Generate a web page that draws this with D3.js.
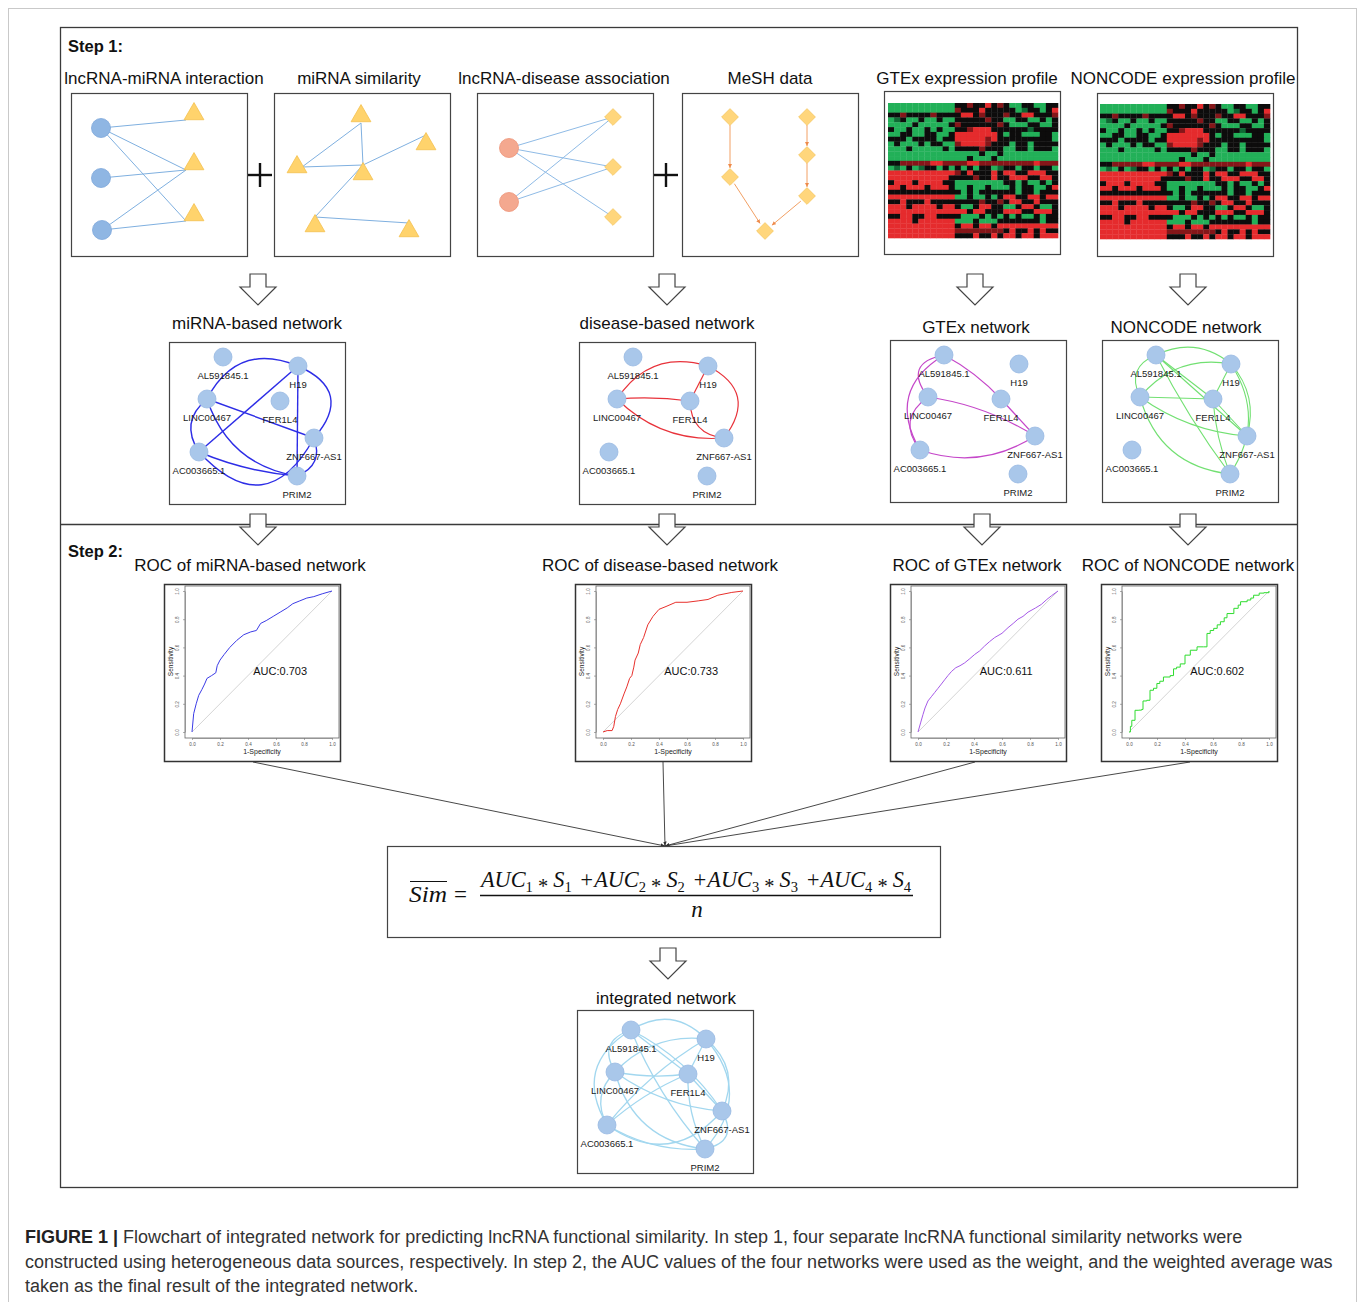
<!DOCTYPE html>
<html><head><meta charset="utf-8">
<script src="https://cdn.jsdelivr.net/npm/d3@7"></script>
<style>
body{margin:0;background:#fff}
svg{display:block}
text{font-family:"Liberation Sans",Arial,sans-serif}
text.math{font-family:"Liberation Serif","DejaVu Serif",serif}
</style>
</head><body>
<svg id="fig" width="1360" height="1302"></svg>
<script>
// ---------- data ----------
const step1Titles = ["lncRNA-miRNA interaction","miRNA similarity","lncRNA-disease association","MeSH data","GTEx expression profile","NONCODE expression profile"];
const networkTitles = ["miRNA-based network","disease-based network","GTEx network","NONCODE network"];
const rocTitles = ["ROC of miRNA-based network","ROC of disease-based network","ROC of GTEx network","ROC of NONCODE network"];
const aucValues = [0.703, 0.733, 0.611, 0.602];
const nodeNames = ["AL591845.1","H19","LINC00467","FER1L4","ZNF667-AS1","AC003665.1","PRIM2"];
const rocTicks = [0, 0.2, 0.4, 0.6, 0.8, 1.0];

// node layout inside a network panel (0 AL, 1 H19, 2 LINC, 3 FER, 4 ZNF, 5 AC, 6 PRIM)
const nodeLayout = [[54,15],[129,24],[38,57],[111,59],[145,96],[30,110],[128,134]];

// edges: [source, target, bend]
const mirnaEdges = [[2,1,-22],[1,5,0],[1,6,0],[1,4,-25],[2,4,0],[2,6,18],[2,5,12],[5,6,4],[5,4,40],[4,6,-10]];
const diseaseEdges = [[2,1,-18],[2,3,-2],[3,1,0],[2,4,13],[3,4,11],[1,4,-22]];
const gtexEdges = [[0,2,18],[0,5,24],[2,5,14],[0,3,-3],[3,4,0],[2,4,-6],[5,4,14]];
const noncodeEdges = [[0,1,-12],[0,2,12],[0,3,0],[0,4,0],[0,6,3],[2,1,-14],[2,3,0],[2,4,8],[2,6,20],[3,1,0],[3,4,0],[3,6,3],[1,4,-10],[1,6,-18]];
const integratedEdges = [[0,1,-15],[0,2,14],[0,3,0],[0,4,-8],[0,6,6],[0,5,24],[2,1,-12],[2,3,3],[2,4,8],[2,6,20],[2,5,10],[1,3,0],[1,4,-14],[1,6,-24],[1,5,6],[3,4,0],[3,6,5],[4,6,-14],[5,6,8],[5,4,26],[5,3,-4]];

// ROC curves: [1-specificity, sensitivity]
const rocMirna = [[0,0],[0.012,0.13],[0.03,0.2],[0.048,0.26],[0.07,0.3],[0.09,0.34],[0.107,0.38],[0.14,0.4],[0.17,0.42],[0.18,0.47],[0.2,0.51],[0.23,0.55],[0.27,0.6],[0.32,0.65],[0.37,0.69],[0.42,0.71],[0.46,0.72],[0.49,0.77],[0.53,0.79],[0.58,0.82],[0.63,0.85],[0.68,0.88],[0.72,0.91],[0.77,0.93],[0.82,0.95],[0.87,0.96],[0.93,0.98],[1,1]];
const rocDisease = [[0,0],[0.03,0.01],[0.065,0.01],[0.077,0.04],[0.089,0.11],[0.105,0.16],[0.124,0.2],[0.15,0.27],[0.17,0.32],[0.19,0.38],[0.206,0.4],[0.22,0.46],[0.229,0.51],[0.252,0.56],[0.266,0.62],[0.29,0.67],[0.32,0.76],[0.357,0.82],[0.4,0.87],[0.45,0.89],[0.52,0.92],[0.6,0.92],[0.68,0.93],[0.75,0.94],[0.82,0.97],[0.92,0.99],[1,1]];
const rocGtex = [[0,0],[0.02,0.07],[0.036,0.125],[0.05,0.17],[0.071,0.22],[0.095,0.25],[0.119,0.28],[0.143,0.31],[0.167,0.34],[0.19,0.37],[0.214,0.4],[0.24,0.43],[0.27,0.456],[0.3,0.47],[0.333,0.49],[0.37,0.52],[0.405,0.55],[0.44,0.575],[0.476,0.61],[0.51,0.64],[0.548,0.67],[0.6,0.7],[0.643,0.74],[0.68,0.77],[0.714,0.8],[0.75,0.82],[0.786,0.85],[0.84,0.88],[0.881,0.905],[0.92,0.94],[0.952,0.965],[1,1]];
const rocNoncode = [[0,0],[0.01,0.04],[0.02,0.083],[0.043,0.154],[0.07,0.155],[0.09,0.16],[0.1,0.22],[0.127,0.225],[0.15,0.296],[0.175,0.31],[0.199,0.344],[0.22,0.36],[0.246,0.39],[0.294,0.4],[0.318,0.448],[0.34,0.46],[0.366,0.483],[0.4,0.545],[0.438,0.58],[0.486,0.604],[0.533,0.604],[0.557,0.699],[0.58,0.72],[0.605,0.735],[0.63,0.76],[0.653,0.782],[0.68,0.81],[0.7,0.84],[0.749,0.877],[0.78,0.9],[0.797,0.924],[0.844,0.936],[0.87,0.95],[0.89,0.97],[0.93,0.985],[0.964,0.988],[1,1]];

// expression heatmap cells, one string per row (G green, g dark green, k black, r dark red, R red)
const heatRows = [
 "GGGGGGGGGGG|kkrkkRkr|kGGkkGGkk",
 "GGGGGGGGGGG|rkkkRkkk|kkGgkkGkR",
 "kkrkkkkrkkk|kRRkrkkk|rkkRRkkkr",
 "GgkGGkGGkGG|kkkkkrkk|GGkkGGkGk",
 "GGGGkGGGGGk|rkkkkkkr|kGGGkkGGk",
 "kGGkGGkGkGG|kkrRRRkk|kkkkgkkkk",
 "GGkkGGkkGGk|RRRRRRRk|GkkGGGkkG",
 "kkkGkkkkGkk|RRRRRrRk|kkkkkkkkG",
 "GkGGGkGkkGG|rRRRRrkk|kGkkGkkkk",
 "GGGkGGGGGkG|kkkkrkkk|GGkkGkkkG",
 "GGGGGGGGGGG|GGGGkGGk|GGGGGGGGG",
 "GGGGGGGGGGG|GGkGGGkG|GGGGGGGGG",
 "kkrrrrrRRrr|rrRRrrrr|rrrrrRrrr",
 "GgGkGgkkGkG|kGkGkkGg|kkGkkGkkG",
 "RRRRRRRRRRR|rkRkkkRk|RRkkRRRkk",
 "RRRRRRRRRRk|kkkrkkRk|kRRRkkRRk",
 "kRRRkRRRRkk|GGGGGGGG|kkGkGGkGk",
 "RRkRRRkRRRk|GGkGGkGG|GkGkkGGkR",
 "kkkkkkkkkkk|kGkGkkkk|kkGkkGkkk",
 "RRRRRRRRRRR|GGkGGkGk|RRkkRRkRR",
 "kkRkkkRkkkk|kkkkrkkr|kRRkkRkkk",
 "RRRkRRRRkRR|kGGkRRkk|GGkRRkGGk",
 "RRRRRRRRRRR|RRkRRkkk|RRRkkRRRk",
 "kkRRkkRRkkk|kGGGkGkG|kGkGGkGkk",
 "RRRRkRRRRRR|GGGkGGGk|kkkkkkGkk",
 "RRRRRRRRRRR|kRRkRRkR|RRRRRRRRR",
 "RRRRRRRRRRR|rrrrrrrr|kRkkRkRkk",
 "RRRRRRRRRRR|kkkRkkRk|RRkRRkRRR"
];
const heatColors = {G:"#22b058", g:"#0f6934", k:"#0d0c0c", r:"#851619", R:"#e52b2d"};

const captionLines = [
 "Flowchart of integrated network for predicting lncRNA functional similarity. In step 1, four separate lncRNA functional similarity networks were",
 "constructed using heterogeneous data sources, respectively. In step 2, the AUC values of the four networks were used as the weight, and the weighted average was",
 "taken as the final result of the integrated network."
];

// ---------- drawing ----------
const svg = d3.select("#fig");

// outer page border and figure frame
svg.append("rect").attr("x",8.5).attr("y",8.5).attr("width",1348).attr("height",1320)
  .attr("fill","none").attr("stroke","#c9c9c9").attr("stroke-width",1);
svg.append("rect").attr("x",60.5).attr("y",27.5).attr("width",1237).attr("height",1160)
  .attr("fill","none").attr("stroke","#3a3a3a").attr("stroke-width",1.3);
svg.append("line").attr("x1",60).attr("x2",1298).attr("y1",524.5).attr("y2",524.5)
  .attr("stroke","#3a3a3a").attr("stroke-width",1.3);

function label(x, y, txt, size, opts = {}) {
  return svg.append("text").attr("x",x).attr("y",y).text(txt)
    .attr("font-size",size).attr("fill",opts.fill || "#111")
    .attr("text-anchor",opts.anchor || "middle")
    .attr("font-weight",opts.weight || "normal");
}

label(68, 52, "Step 1:", 16.5, {anchor:"start", weight:"bold"});
label(68, 557, "Step 2:", 16.5, {anchor:"start", weight:"bold"});

// step 1 titles and frames
const titleX = [164, 359, 564, 770, 967, 1183];
step1Titles.forEach((t,i) => label(titleX[i], 84, t, 17));
const step1Boxes = [[71,93],[274,93],[477,93],[682,93],[884,91],[1097,93]];
step1Boxes.forEach(([x,y]) => svg.append("rect").attr("x",x+0.5).attr("y",y+0.5)
  .attr("width",176).attr("height",163).attr("fill","#fff").attr("stroke","#444").attr("stroke-width",1.2));

// plus signs
[[260,175],[666,175]].forEach(([cx,cy]) => {
  svg.append("line").attr("x1",cx-12).attr("x2",cx+12).attr("y1",cy).attr("y2",cy).attr("stroke","#111").attr("stroke-width",2.4);
  svg.append("line").attr("x1",cx).attr("x2",cx).attr("y1",cy-12).attr("y2",cy+12).attr("stroke","#111").attr("stroke-width",2.4);
});

// lncRNA-miRNA bipartite graph
const lmCircles = [[101,128],[101,178],[102,230]];
const lmTriangles = [[194,114],[194,164],[194,215]];
const lmEdges = [[0,0],[0,1],[0,2],[1,1],[2,1],[2,2]];
const tri = d3.symbol(d3.symbolTriangle, 170);
const bipartite = svg.append("g");
lmEdges.forEach(([a,b]) => bipartite.append("line")
  .attr("x1",lmCircles[a][0]).attr("y1",lmCircles[a][1])
  .attr("x2",lmTriangles[b][0]-8).attr("y2",lmTriangles[b][1]+6)
  .attr("stroke","#7fb0e0").attr("stroke-width",1));
lmCircles.forEach(([x,y]) => bipartite.append("circle").attr("cx",x).attr("cy",y).attr("r",9.5)
  .attr("fill","#8fb6e3").attr("stroke","#7ea7da").attr("stroke-width",0.8));
lmTriangles.forEach(([x,y]) => bipartite.append("path").attr("d",tri()).attr("transform",`translate(${x},${y})`)
  .attr("fill","#ffd36c").attr("stroke","#f4c04e").attr("stroke-width",0.8));

// miRNA similarity graph
const msTriangles = [[361,116],[426,144],[297,167],[363,174],[315,226],[409,231]];
const msAnchors = [[361,123],[426,135],[302,167],[363,165],[315,217],[409,223]];
const msEdges = [[0,2],[0,3],[2,3],[3,1],[3,4],[4,5]];
const msim = svg.append("g");
msEdges.forEach(([a,b]) => msim.append("line")
  .attr("x1",msAnchors[a][0]).attr("y1",msAnchors[a][1]).attr("x2",msAnchors[b][0]).attr("y2",msAnchors[b][1])
  .attr("stroke","#7fb0e0").attr("stroke-width",1));
msTriangles.forEach(([x,y]) => msim.append("path").attr("d",tri()).attr("transform",`translate(${x},${y})`)
  .attr("fill","#ffd36c").attr("stroke","#f4c04e").attr("stroke-width",0.8));

// lncRNA-disease bipartite graph
const ldCircles = [[509,148],[509,202]];
const ldDiamonds = [[613,117],[613,167],[613,217]];
const ldEdges = [[0,0],[0,1],[0,2],[1,0],[1,1]];
const dia = d3.symbol(d3.symbolSquare, 140);
const ld = svg.append("g");
ldEdges.forEach(([a,b]) => ld.append("line")
  .attr("x1",ldCircles[a][0]).attr("y1",ldCircles[a][1]).attr("x2",ldDiamonds[b][0]).attr("y2",ldDiamonds[b][1])
  .attr("stroke","#8fbbe6").attr("stroke-width",1));
ldCircles.forEach(([x,y]) => ld.append("circle").attr("cx",x).attr("cy",y).attr("r",9.5)
  .attr("fill","#f4a88f").attr("stroke","#ee9478").attr("stroke-width",0.8));
ldDiamonds.forEach(([x,y]) => ld.append("path").attr("d",dia()).attr("transform",`translate(${x},${y}) rotate(45)`)
  .attr("fill","#ffd67c").attr("stroke","#f5c660").attr("stroke-width",0.8));

// MeSH tree
const meshNodes = [[730,117],[807,117],[807,155],[730,177],[807,196],[765,231]];
const meshEdges = [[0,3],[1,2],[2,4],[3,5],[4,5]];
const defs = svg.append("defs");
defs.append("marker").attr("id","meshArrow").attr("viewBox","0 0 10 10").attr("refX",10).attr("refY",5)
  .attr("markerWidth",4).attr("markerHeight",4).attr("orient","auto")
  .append("path").attr("d","M0,0L10,5L0,10Z").attr("fill","#ee8a4a");
const mesh = svg.append("g");
meshEdges.forEach(([a,b]) => {
  const [x1,y1] = meshNodes[a], [x2,y2] = meshNodes[b];
  const L = Math.hypot(x2-x1,y2-y1);
  const ux = (x2-x1)/L, uy = (y2-y1)/L;
  mesh.append("line").attr("x1",x1+ux*8).attr("y1",y1+uy*8).attr("x2",x2-ux*9).attr("y2",y2-uy*9)
    .attr("stroke","#f2a064").attr("stroke-width",1).attr("marker-end","url(#meshArrow)");
});
meshNodes.forEach(([x,y]) => mesh.append("path").attr("d",dia()).attr("transform",`translate(${x},${y}) rotate(45)`)
  .attr("fill","#ffd67c").attr("stroke","#f5c660").attr("stroke-width",0.8));

// expression heatmaps
function heatmap(x0, y0, w, h) {
  const rows = heatRows.map(r => r.replace(/\|/g,""));
  const ncol = d3.max(rows, r => r.length);
  const xs = d3.scaleBand().domain(d3.range(ncol)).range([x0, x0+w]);
  const ys = d3.scaleBand().domain(d3.range(rows.length)).range([y0, y0+h]);
  const g = svg.append("g");
  rows.forEach((r, i) => r.split("").forEach((c, j) => {
    g.append("rect").attr("x",xs(j)).attr("y",ys(i)).attr("width",xs.bandwidth()+0.3).attr("height",ys.bandwidth()+0.3)
      .attr("fill",heatColors[c]);
  }));
}
heatmap(888, 103, 170, 135);
heatmap(1100, 104, 170, 135);

// hollow block arrows
const hollowArrows = [[258,274],[667,274],[975,274],[1188,274],[258,514],[667,514],[982,514],[1188,514],[668,948]];
hollowArrows.forEach(([cx,top]) => {
  const pts = [[-8,0],[8,0],[8,13],[18,13],[0,31],[-18,13],[-8,13]].map(([a,b]) => [cx+a, top+b]);
  svg.append("polygon").attr("points",pts.map(p=>p.join(",")).join(" "))
    .attr("fill","#fff").attr("stroke","#444").attr("stroke-width",1.2).attr("stroke-linejoin","miter");
});

// network panels
function qpath(a, b, bend) {
  const mx = (a[0]+b[0])/2, my = (a[1]+b[1])/2;
  const dx = b[0]-a[0], dy = b[1]-a[1];
  const L = Math.hypot(dx,dy) || 1;
  const cx = mx + (-dy/L)*bend*2, cy = my + (dx/L)*bend*2;
  return `M${a[0]},${a[1]}Q${cx},${cy} ${b[0]},${b[1]}`;
}
function network(bx, by, h, oy, edges, color, sw) {
  const g = svg.append("g");
  g.append("rect").attr("x",bx+0.5).attr("y",by+0.5).attr("width",176).attr("height",h)
    .attr("fill","#fff").attr("stroke","#444").attr("stroke-width",1.2);
  const pos = nodeLayout.map(([a,b]) => [bx+a, by+oy+b]);
  edges.forEach(([s,t,bend]) => g.append("path").attr("d",qpath(pos[s],pos[t],bend))
    .attr("fill","none").attr("stroke",color).attr("stroke-width",sw));
  pos.forEach(([x,y]) => g.append("circle").attr("cx",x).attr("cy",y).attr("r",9)
    .attr("fill","#a9c7ea").attr("stroke","#98b9e2").attr("stroke-width",0.8));
  pos.forEach(([x,y], i) => g.append("text").attr("x",x).attr("y",y+22).text(nodeNames[i])
    .attr("font-size",9.5).attr("fill","#1a1a1a").attr("text-anchor","middle"));
}
label(257, 329, networkTitles[0], 17);
label(667, 329, networkTitles[1], 17);
label(976, 333, networkTitles[2], 17);
label(1186, 333, networkTitles[3], 17);
network(169, 342, 162, 0, mirnaEdges, "#2d2de6", 1.4);
network(579, 342, 162, 0, diseaseEdges, "#e8333b", 1.2);
network(890, 340, 162, 0, gtexEdges, "#c547c9", 1.2);
network(1102, 340, 162, 0, noncodeEdges, "#72e072", 1.1);
label(666, 1004, "integrated network", 17);
network(577, 1010, 163, 5, integratedEdges, "#a2d7ef", 1.3);

// ROC panels
function roc(bx, by, pts, color, auc, stepped) {
  const g = svg.append("g");
  g.append("rect").attr("x",bx+0.5).attr("y",by+0.5).attr("width",176).attr("height",177)
    .attr("fill","#fff").attr("stroke","#333").attr("stroke-width",1.5);
  const x = d3.scaleLinear().domain([0,1]).range([bx+28, bx+168]);
  const y = d3.scaleLinear().domain([0,1]).range([by+148, by+7]);
  g.append("rect").attr("x",bx+21).attr("y",by+2).attr("width",154).attr("height",152)
    .attr("fill","none").attr("stroke","#666").attr("stroke-width",0.8);
  const ax = g.append("g").attr("transform",`translate(0,${by+154})`)
    .call(d3.axisBottom(x).tickValues(rocTicks).tickFormat(d3.format(".1f")).tickSize(2).tickSizeOuter(0));
  const ay = g.append("g").attr("transform",`translate(${bx+21},0)`)
    .call(d3.axisLeft(y).tickValues(rocTicks).tickFormat(d3.format(".1f")).tickSize(2).tickSizeOuter(0));
  [ax, ay].forEach(a => {
    a.select(".domain").attr("stroke","#777").attr("stroke-width",0.6);
    a.selectAll(".tick line").attr("stroke","#777").attr("stroke-width",0.6);
    a.selectAll(".tick text").attr("font-size",4.6).attr("fill","#555").attr("font-family","Liberation Sans, Arial, sans-serif");
  });
  ay.selectAll(".tick text")
    .attr("text-anchor","middle").attr("x",0).attr("dy",0).attr("transform","translate(-6,0) rotate(-90)");
  g.append("text").attr("x",(x(0)+x(1))/2).attr("y",by+170).text("1-Specificity")
    .attr("font-size",7).attr("text-anchor","middle").attr("fill","#222");
  g.append("text").attr("transform",`translate(${bx+9},${(y(0)+y(1))/2}) rotate(-90)`).text("Sensitivity")
    .attr("font-size",6.5).attr("text-anchor","middle").attr("fill","#222");
  g.append("line").attr("x1",x(0)).attr("y1",y(0)).attr("x2",x(1)).attr("y2",y(1))
    .attr("stroke","#cfcfcf").attr("stroke-width",0.9);
  const line = d3.line().x(d=>x(d[0])).y(d=>y(d[1])).curve(stepped ? d3.curveStepAfter : d3.curveLinear);
  g.append("path").datum(pts).attr("d",line).attr("fill","none").attr("stroke",color).attr("stroke-width",1);
  g.append("text").attr("x",x(0.63)).attr("y",y(0.405)).text("AUC:" + d3.format(".3f")(auc))
    .attr("font-size",11).attr("text-anchor","middle").attr("fill","#111");
}
label(250, 571, rocTitles[0], 17);
label(660, 571, rocTitles[1], 17);
label(977, 571, rocTitles[2], 17);
label(1188, 571, rocTitles[3], 17);
roc(164, 584, rocMirna, "#3b3be6", aucValues[0], false);
roc(575, 584, rocDisease, "#e8302c", aucValues[1], false);
roc(890, 584, rocGtex, "#a65ae8", aucValues[2], false);
roc(1101, 584, rocNoncode, "#2fdc2f", aucValues[3], true);

// connectors from ROC panels to the weighting formula
const meet = [665, 846];
defs.append("marker").attr("id","joinArrow").attr("viewBox","0 0 10 10").attr("refX",10).attr("refY",5)
  .attr("markerWidth",5).attr("markerHeight",5).attr("orient","auto")
  .append("path").attr("d","M0,1L10,5L0,9Z").attr("fill","#333");
[[253,762],[663,762],[975,762],[1190,762]].forEach(([x,y]) => svg.append("line")
  .attr("x1",x).attr("y1",y).attr("x2",meet[0]).attr("y2",meet[1])
  .attr("stroke","#333").attr("stroke-width",0.9).attr("marker-end","url(#joinArrow)"));

// weighted-average formula
svg.append("rect").attr("x",387.5).attr("y",846.5).attr("width",553).attr("height",91)
  .attr("fill","#fff").attr("stroke","#444").attr("stroke-width",1.2);
svg.append("text").attr("class","math").attr("x",409).attr("y",902).text("Sim")
  .attr("font-style","italic").attr("font-size",23).attr("fill","#111")
  .attr("textLength",38).attr("lengthAdjust","spacingAndGlyphs");
svg.append("line").attr("x1",410).attr("x2",447).attr("y1",881.5).attr("y2",881.5).attr("stroke","#111").attr("stroke-width",1.2);
svg.append("text").attr("class","math").attr("x",454).attr("y",902).text("=")
  .attr("font-size",23).attr("fill","#111");
const num = svg.append("text").attr("class","math").attr("x",481).attr("y",887)
  .attr("font-size",23).attr("fill","#111");
[1,2,3,4].forEach(k => {
  num.append("tspan").text((k>1 ? " +" : "") + "AUC").attr("font-style","italic");
  num.append("tspan").text(k).attr("font-size",15).attr("dy",5);
  num.append("tspan").text(" * ").attr("dy",1).attr("font-size",21);
  num.append("tspan").text("S").attr("font-style","italic").attr("dy",-6);
  num.append("tspan").text(k).attr("font-size",15).attr("dy",5);
  num.append("tspan").text("\u200a").attr("dy",-5);
});
num.attr("textLength",432).attr("lengthAdjust","spacingAndGlyphs");
svg.append("line").attr("x1",480).attr("x2",913).attr("y1",895.5).attr("y2",895.5).attr("stroke","#111").attr("stroke-width",1.3);
svg.append("text").attr("class","math").attr("x",697).attr("y",917).text("n")
  .attr("font-style","italic").attr("font-size",23).attr("text-anchor","middle").attr("fill","#111");

// caption
const cap = svg.append("text").attr("x",25).attr("y",1243).attr("font-size",18).attr("fill","#333");
cap.append("tspan").text("FIGURE 1 |").attr("font-weight","bold").attr("fill","#222");
cap.append("tspan").text(" " + captionLines[0]);
svg.append("text").attr("x",25).attr("y",1268).attr("font-size",18).attr("fill","#333").text(captionLines[1]);
svg.append("text").attr("x",25).attr("y",1292).attr("font-size",18).attr("fill","#333").text(captionLines[2]);
</script>
</body></html>
